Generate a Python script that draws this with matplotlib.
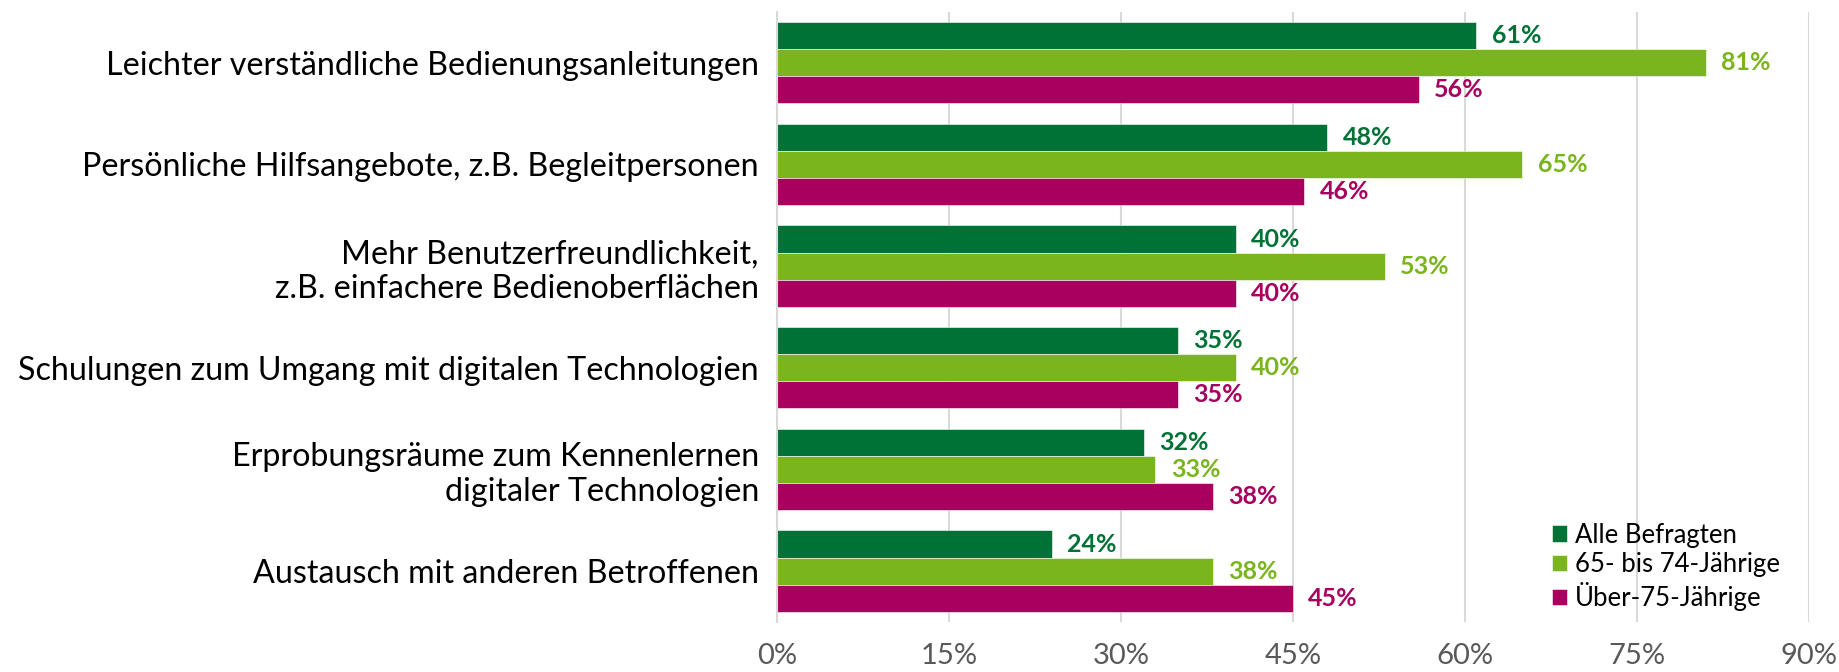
import matplotlib.pyplot as plt
import numpy as np

plt.rcParams['font.family'] = ['Lato', 'DejaVu Sans']

categories = [
    "Leichter verständliche Bedienungsanleitungen",
    "Persönliche Hilfsangebote, z.B. Begleitpersonen",
    "Mehr Benutzerfreundlichkeit,\nz.B. einfachere Bedienoberflächen",
    "Schulungen zum Umgang mit digitalen Technologien",
    "Erprobungsräume zum Kennenlernen\ndigitaler Technologien",
    "Austausch mit anderen Betroffenen",
]
alle = [61, 48, 40, 35, 32, 24]
jung = [81, 65, 53, 40, 33, 38]
alt = [56, 46, 40, 35, 38, 45]
series_names = ["Alle Befragten", "65- bis 74-Jährige", "Über-75-Jährige"]
colors = ["#007236", "#7AB51D", "#A8005F"]
ticks = [0, 15, 30, 45, 60, 75, 90]

fig = plt.figure(figsize=(18.39, 6.72), dpi=100)
ax = fig.add_axes([0.4225, 0.0744, 0.5612, 0.9078])

y = np.arange(len(categories))
h = 0.8 / 3
for i, (vals, name, c) in enumerate(zip([alle, jung, alt], series_names, colors)):
    pos = y - h + i * h
    bars = ax.barh(pos, vals, height=h, color=c, label=name,
                   edgecolor="white", linewidth=0.4)
    ax.bar_label(bars, labels=[f"{v}%" for v in vals], padding=11,
                 color=c, fontsize=18, fontweight="bold")

ax.set_ylim(len(categories) - 0.5, -0.5)
ax.set_xlim(0, 90)
ax.set_xticks(ticks)
ax.set_xticklabels([f"{t}%" for t in ticks], fontsize=21, color="#595959")
ax.set_yticks(y)
ax.set_yticklabels(categories, fontsize=23.2, color="black")
ax.tick_params(axis="both", length=0)
ax.tick_params(axis="x", pad=15)
ax.tick_params(axis="y", pad=13)
ax.xaxis.grid(True, color="#D9D9D9", linewidth=1.5)
ax.set_axisbelow(True)
for s in ["top", "right", "bottom"]:
    ax.spines[s].set_visible(False)
ax.spines["left"].set_color("#D9D9D9")
ax.spines["left"].set_linewidth(1.5)

ax.legend(loc="lower right", bbox_to_anchor=(0.975, 0.072), frameon=False,
          fontsize=18.5, handlelength=0.6, handleheight=0.6, handletextpad=0.3,
          labelspacing=0.18, borderpad=0, bbox_transform=fig.transFigure)

fig.savefig("out.png", dpi=100)
